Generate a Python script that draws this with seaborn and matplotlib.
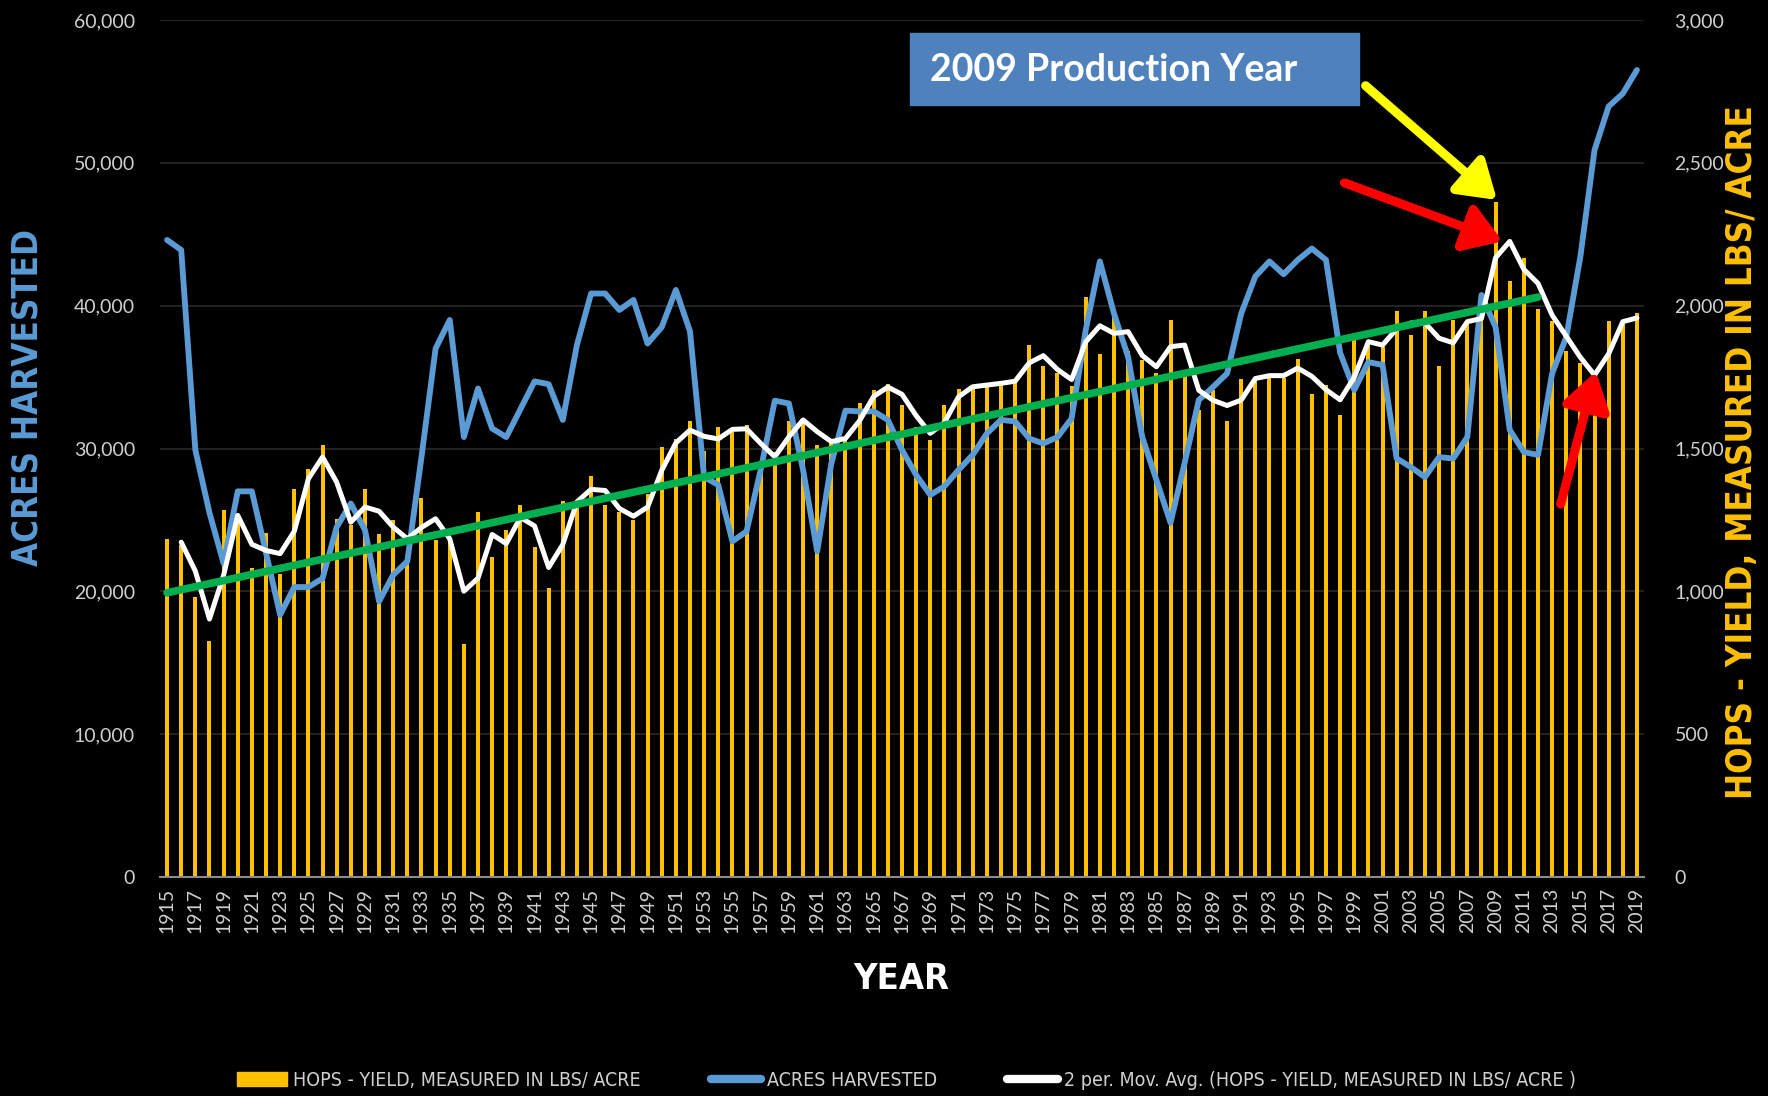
import numpy as np
import pandas as pd
import matplotlib.pyplot as plt
import seaborn as sns
from matplotlib.patches import Rectangle, Patch
from matplotlib.lines import Line2D

# values
years = list(range(1915, 2020))
yield_lbs = [1182, 1162, 980, 826, 1286, 1246, 1083, 1203, 1061, 1359,
             1429, 1511, 1253, 1231, 1359, 1202, 1248, 1120, 1327, 1181,
             1187, 814, 1278, 1120, 1214, 1303, 1155, 1012, 1316, 1310,
             1404, 1302, 1278, 1248, 1342, 1505, 1534, 1595, 1490, 1577,
             1557, 1581, 1455, 1487, 1595, 1605, 1513, 1535, 1535, 1660,
             1705, 1725, 1654, 1576, 1530, 1652, 1710, 1722, 1722, 1734,
             1737, 1862, 1788, 1765, 1718, 2029, 1830, 1976, 1842, 1809,
             1763, 1950, 1774, 1634, 1704, 1597, 1742, 1748, 1762, 1748,
             1815, 1690, 1722, 1619, 1880, 1868, 1856, 1982, 1897, 1982,
             1790, 1950, 1938, 1972, 2364, 2086, 2168, 1988, 1946, 1840,
             1798, 1716, 1947, 1941, 1973]
acres = [44600, 43900, 29900, 25500, 21950, 27000, 27000, 22700, 18350, 20300,
         20300, 20900, 24500, 26150, 24300, 19300, 21150, 22100, 29400, 37000,
         39000, 30800, 34200, 31400, 30800, 32750, 34700, 34500, 32000, 37250,
         40850, 40850, 39700, 40400, 37350, 38500, 41100, 38200, 28000, 27450,
         23500, 24200, 28500, 33350, 33150, 28500, 22800, 28950, 32650, 32600,
         32600, 32000, 29900, 28150, 26750, 27350, 28500, 29550, 31050, 32000,
         31900, 30700, 30350, 30800, 32100, 38300, 43100, 39450, 36400, 30800,
         27800, 24800, 29000, 33400, 34300, 35250, 39450, 42050, 43100, 42200,
         43200, 44000, 43200, 36700, 34100, 36050, 35850, 29300, 28700, 28000,
         29400, 29300, 30800, 40750, 38500, 31300, 29750, 29550, 35250, 37800,
         43450, 50900, 53950, 54850, 56500]
trend_years = [1915, 2012]
trend_yield = [995, 2030]

YELLOW = '#FFC000'
BLUE = '#5B9BD5'
GREEN = '#00B050'
TICK = '#D0D0D0'
NARROW = ['DejaVu Sans']

sns.set_theme(style='dark', rc={'axes.facecolor': 'black', 'figure.facecolor': 'black',
                                'savefig.facecolor': 'black'})
plt.rcParams['font.family'] = ['Lato', 'DejaVu Sans']

df = pd.DataFrame({'year': years, 'yield': yield_lbs, 'acres': acres})
df['ma'] = df['yield'].rolling(2).mean()

fig = plt.figure(figsize=(17.68, 10.96), dpi=100)
ax_y = fig.add_axes([160 / 1768, 1 - 877 / 1096, 1484 / 1768, 857 / 1096])

# bars: yield (right scale)
sns.barplot(data=df, x='year', y='yield', native_scale=True, width=0.28,
            color=YELLOW, saturation=1, errorbar=None, linewidth=0, ax=ax_y)

# acres harvested (left scale)
ax_a = ax_y.twinx()
sns.lineplot(data=df, x='year', y='acres', color=BLUE, lw=4.2, ax=ax_a)

# moving average + trend on top
ax_t = ax_y.twinx()
sns.lineplot(data=df, x='year', y='ma', color='white', lw=3.6, ax=ax_t)
sns.lineplot(x=trend_years, y=trend_yield, color=GREEN, lw=5.5, ax=ax_t)

ax_y.set_xlim(1914.5, 2019.5)
ax_y.set_ylim(0, 3000)
ax_t.set_ylim(0, 3000)
ax_a.set_ylim(0, 60000)

ax_y.set_yticks(np.arange(0, 3001, 500))
ax_y.set_yticklabels([f'{v:,}' for v in range(0, 3001, 500)])
ax_a.set_yticks(np.arange(0, 60001, 10000))
ax_a.set_yticklabels([f'{v:,}' for v in range(0, 60001, 10000)])
ax_y.yaxis.tick_right()
ax_a.yaxis.tick_left()
ax_t.set_yticks([])
ax_t.set_ylabel('')

ax_y.set_xticks(years[::2])
ax_y.set_xticklabels([str(y) for y in years[::2]], rotation=90)
ax_y.tick_params(axis='x', colors=TICK, labelsize=14, length=0, pad=8)
ax_y.tick_params(axis='y', colors=TICK, labelsize=14, length=0, pad=22)
ax_a.tick_params(axis='y', colors=TICK, labelsize=14, length=0, pad=18)

ax_y.yaxis.grid(True, color='#2A2A2A', lw=1.2)
ax_y.xaxis.grid(False)
ax_y.set_axisbelow(True)
for a in (ax_y, ax_a, ax_t):
    for s in a.spines.values():
        s.set_visible(False)
ax_y.spines['bottom'].set_visible(True)
ax_y.spines['bottom'].set_color('#8C8C8C')
ax_y.spines['bottom'].set_linewidth(1.5)

lbl = dict(fontweight='bold', family=NARROW, fontstretch='condensed', va='center')
ax_y.set_xlabel('YEAR', color='white', fontsize=26, **lbl)
ax_y.xaxis.set_label_coords(0.4993, -0.119)
ax_y.yaxis.set_label_position('right')
ax_y.set_ylabel('HOPS - YIELD, MEASURED IN LBS/ ACRE', color=YELLOW, fontsize=25,
                rotation=90, **lbl)
ax_y.yaxis.set_label_coords(1.066, 0.496)
ax_a.yaxis.set_label_position('left')
ax_a.set_ylabel('ACRES HARVESTED', color=BLUE, fontsize=25, **lbl)
ax_a.yaxis.set_label_coords(-0.089, 0.56)

# callout box
fig.patches.append(Rectangle((910 / 1768, 1 - 105 / 1096), 449 / 1768, 72 / 1096,
                             transform=fig.transFigure, color='#4F81BD', zorder=5))
fig.text(930 / 1768, 1 - 70 / 1096, '2009 Production Year', color='white',
         fontsize=27, fontweight='bold', va='center', ha='left', zorder=6)

arrow = dict(arrowstyle='-|>,head_length=1.0,head_width=0.65', lw=6.5,
             shrinkA=0, shrinkB=0, mutation_scale=22)
ax_t.annotate('', xy=(2009.1, 2370), xytext=(1999.8, 2770),
              arrowprops=dict(arrow, color='#FFFF00'))
ax_t.annotate('', xy=(2009.5, 2225), xytext=(1998.3, 2430),
              arrowprops=dict(arrow, color='#FF0000'))
ax_t.annotate('', xy=(2016.1, 1770), xytext=(2013.6, 1305),
              arrowprops=dict(arrow, color='#FF0000'))

handles = [Patch(facecolor=YELLOW, edgecolor=YELLOW),
           Line2D([], [], color=BLUE, lw=6),
           Line2D([], [], color='white', lw=6)]
labels = ['HOPS - YIELD, MEASURED IN LBS/ ACRE', 'ACRES HARVESTED',
          '2 per. Mov. Avg. (HOPS - YIELD, MEASURED IN LBS/ ACRE )']
fig.legend(handles, labels, loc='center', bbox_to_anchor=(0.5125, 16 / 1096), ncol=3,
           frameon=False, columnspacing=3.6, handlelength=2.6, handletextpad=0.3,
           prop={'family': NARROW, 'stretch': 'condensed', 'size': 14}, labelcolor=TICK)

fig.savefig('out.png', dpi=100)
